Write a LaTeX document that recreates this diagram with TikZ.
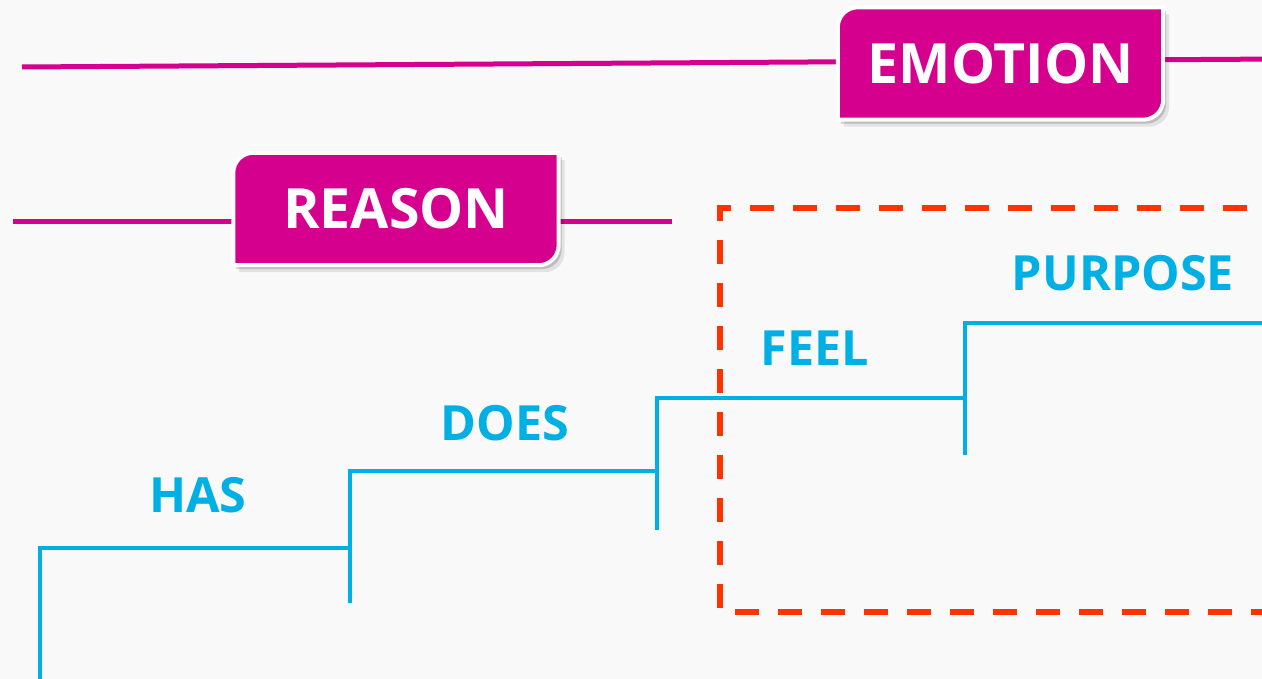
\documentclass[tikz,border=0pt]{standalone}
\usepackage{fontspec}
\setmainfont{Open Sans}
\usetikzlibrary{positioning, calc, backgrounds}
\definecolor{tagpink}{RGB}{214,0,143}
\definecolor{stepblue}{RGB}{0,176,228}
\definecolor{focusred}{RGB}{255,51,0}
\definecolor{paper}{RGB}{249,249,249}

\begin{document}
\begin{tikzpicture}[
  x=1pt, y=-1pt,
  tagtext/.style={text=white, font=\bfseries\fontsize{55.5}{60}\selectfont, minimum width=325pt, minimum height=112pt, inner sep=0pt},
  tagbody/.style={fill=tagpink, draw=white, line width=4pt},
  tagshadowfar/.style={fill=black, fill opacity=.09, draw=none, transform canvas={shift={(6pt,-7pt)}}},
  tagshadownear/.style={fill=black, fill opacity=.16, draw=none, transform canvas={shift={(3pt,-4pt)}}},
  branch/.style={draw=tagpink, line width=5pt},
  stairline/.style={draw=stepblue, line width=4pt},
  steplbl/.style={text=stepblue, font=\bfseries\fontsize{48.5}{52}\selectfont, inner sep=0pt},
  focus/.style={draw=focusred, line width=5.5pt, dash pattern=on 24pt off 19pt}
]
\useasboundingbox (0,0) rectangle (1262,679);
\clip (0,0) rectangle (1262,679);

% Tags
\node[tagtext] (emotiontag) at (1000.5,63.5) {EMOTION};
\node[tagtext] (reasontag) at (396,209) {REASON};

% Stairs
\coordinate (s0) at (40,700);
\coordinate (s1) at (40,548);
\coordinate (s2) at (350,548);
\coordinate (s3) at (350,603);
\coordinate (s4) at (350,471);
\coordinate (s5) at (657,471);
\coordinate (s6) at (657,530);
\coordinate (s7) at (657,398);
\coordinate (s8) at (965,398);
\coordinate (s9) at (965,455);
\coordinate (s10) at (965,323);
\coordinate (s11) at (1280,323);

\draw[stairline] (s0) -- (s1) -- (s2);
\draw[stairline] (s3) -- (s4) -- (s5);
\draw[stairline] (s6) -- (s7) -- (s8);
\draw[stairline] (s9) -- (s10) -- (s11);

\node[steplbl] (lblhas) at (198,495) {HAS};
\node[steplbl] (lbldoes) at (505,423) {DOES};
\node[steplbl] (lblfeel) at (815,348) {FEEL};
\node[steplbl] (lblpurpose) at (1123,273) {PURPOSE};

% Focus frame
\coordinate (fne) at (1290,208);
\coordinate (fnw) at (720,208);
\coordinate (fsw) at (720,612);
\coordinate (fse) at (1290,612);
\draw[focus] (fne) -- (fnw) -- (fsw) -- (fse);

% Branches and tag frames
\begin{scope}[on background layer]
  \fill[paper] (0,0) rectangle (1262,679);
  \coordinate (emostart) at (22,67);
  \coordinate (emoend) at (1280,59);
  \coordinate (reastart) at (13,222);
  \coordinate (reaend) at (672,222);
  \draw[branch] (emostart) -- (emoend);
  \draw[branch] (reastart) -- (reaend);
  \foreach \t in {emotiontag, reasontag}
    \foreach \look in {tagshadowfar, tagshadownear, tagbody}
      \filldraw[\look] (\t.west) [rounded corners=20pt] -- (\t.north west) -- (\t.north)
        [sharp corners] -- (\t.north east) -- (\t.east)
        [rounded corners=20pt] -- (\t.south east) -- (\t.south)
        [sharp corners] -- (\t.south west) -- cycle;
\end{scope}

\end{tikzpicture}
\end{document}
